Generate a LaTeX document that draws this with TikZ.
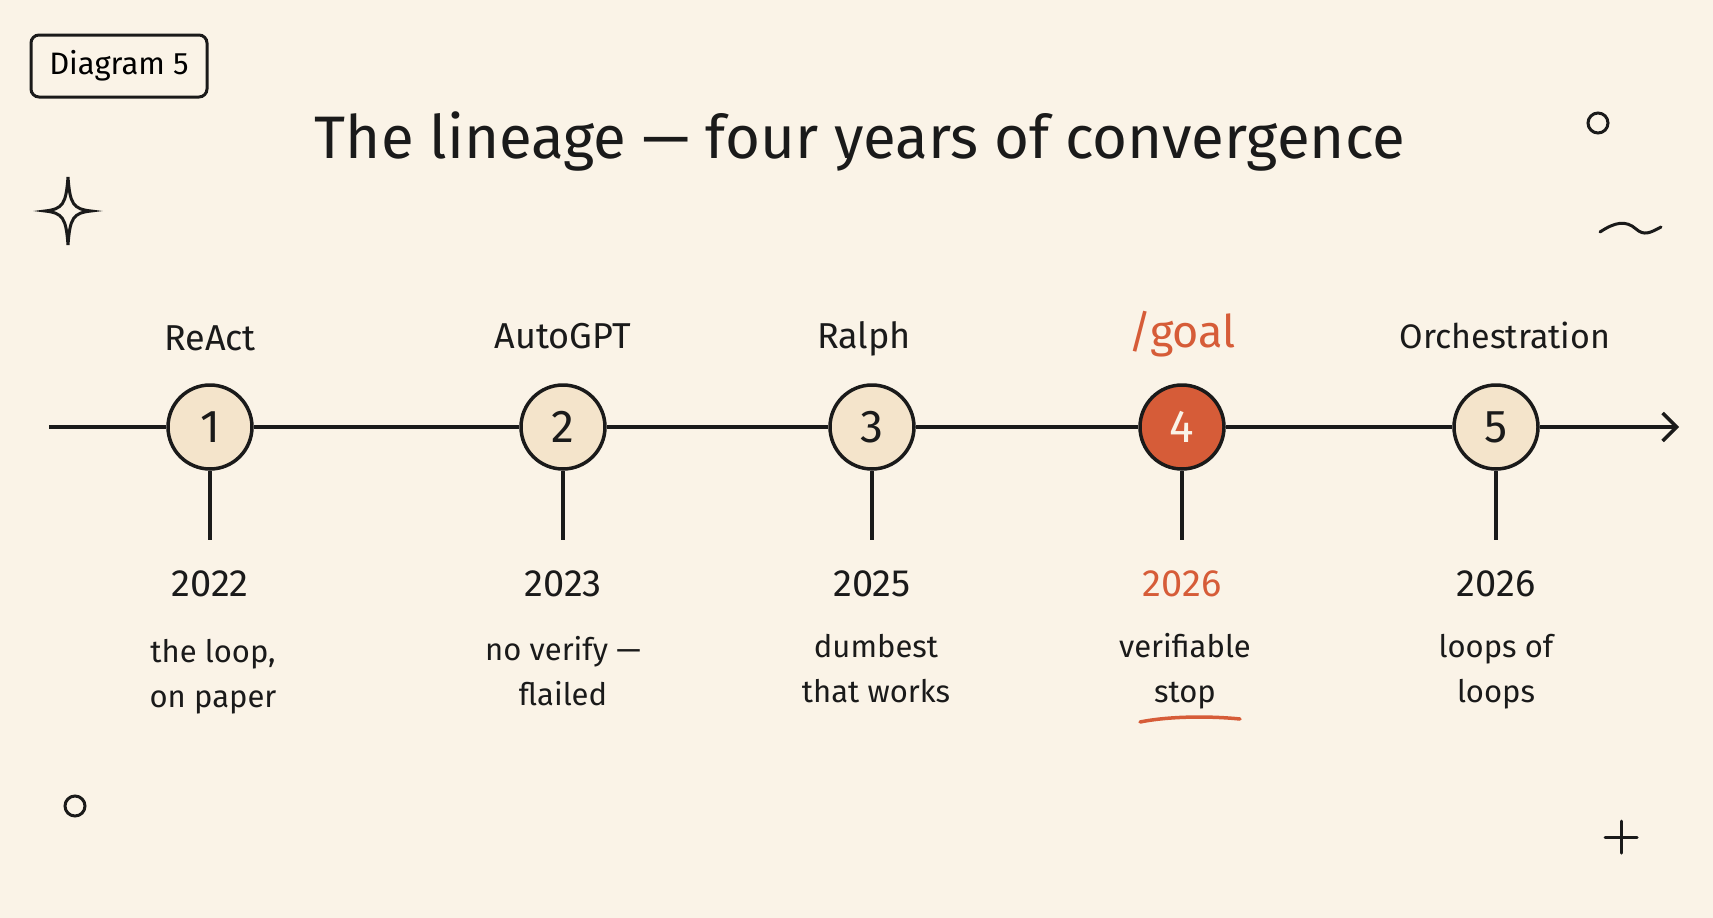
\documentclass[tikz,border=0pt]{standalone}
\usepackage{fontspec}
\setmainfont{Fira Sans}
\usetikzlibrary{positioning}
\usetikzlibrary{arrows.meta}
\definecolor{paper}{HTML}{FAF3E7}
\definecolor{beige}{HTML}{F4E4CB}
\definecolor{rust}{HTML}{D65C38}
\definecolor{ink}{HTML}{1A1A1A}
\tikzstyle{milestone}=[circle,fill=beige,draw=ink,line width=3.5pt,minimum size=84pt,inner sep=0pt,font=\fontsize{46}{50}\selectfont]
\tikzstyle{tag}=[anchor=base,text=ink,font=\fontsize{36}{40}\selectfont]
\tikzstyle{year}=[anchor=base,text=ink,font=\fontsize{38}{42}\selectfont]
\tikzstyle{note}=[anchor=base,text=ink,align=center,font=\fontsize{31}{45}\selectfont]
\tikzstyle{wire}=[draw=ink,line width=3.5pt]
\tikzstyle{doodle}=[draw=ink,line width=3pt,line cap=round]

\begin{document}
\begin{tikzpicture}[x=1pt,y=-1pt]

  \fill[paper] (0,0) rectangle (1713,918);
  \useasboundingbox (0,0) rectangle (1713,918);

  \def\ty{427};
  \def\sy{540};

  \node[draw=ink,line width=3pt,rounded corners=8pt,minimum width=176pt,minimum height=62pt,font=\fontsize{31}{34}\selectfont] (badge) at (119,66) {Diagram 5};
  \node[anchor=base,text=ink,font=\fontsize{60}{66}\selectfont] (title) at (860,158) {The lineage — four years of convergence};

  \coordinate (start) at (49,\ty);
  \coordinate (end) at (1679,\ty);

  \foreach \x/\i/\fc/\tc in {210/1/beige/ink, 563/2/beige/ink, 872/3/beige/ink, 1182/4/rust/paper, 1496/5/beige/ink}
  {
     \node[milestone,fill=\fc,text=\tc] (n\i) at (\x,\ty) {\i};
     \coordinate (s\i) at (\x,\sy);
     \draw[wire] (n\i) -- (s\i);
  }

  \foreach \a/\b in {start/n1, n1/n2, n2/n3, n3/n4, n4/n5}
     \draw[wire] (\a) -- (\b);
  \draw[wire,-{Straight Barb[length=14pt,width=28pt]}] (n5) -- (end);

  % names above the line
  \node[tag] (t1) at (210,350) {ReAct};
  \node[tag] (t2) at (563,348) {AutoGPT};
  \node[tag] (t3) at (864,348) {Ralph};
  \node[tag,text=rust,font=\fontsize{45}{48}\selectfont] (t4) at (1182,347) {/goal};
  \node[tag,font=\fontsize{34}{40}\selectfont] (t5) at (1505,348) {Orchestration};

  % years and notes below
  \foreach \x/\i/\yr/\tc in {210/1/2022/ink, 563/2/2023/ink, 872/3/2025/ink, 1182/4/2026/rust, 1496/5/2026/ink}
     \node[year,text=\tc] (y\i) at (\x,596) {\yr};

  \node[note] (d1) at (213,707) {the loop,\\on paper};
  \node[note] (d2) at (563,705) {no verify —\\flailed};
  \node[note] (d3) at (876,702) {dumbest\\that works};
  \node[note] (d4) at (1185,702) {verifiable\\stop};
  \node[note] (d5) at (1496,702) {loops of\\loops};

  \draw[rust,line width=3.5pt,line cap=round] (1140,722) .. controls (1170,716) and (1210,716) .. (1240,719);

  % doodles
  \draw[doodle] (68,177) .. controls (70,204) and (73,209) .. (91,211) .. controls (73,213) and (70,218) .. (68,245) .. controls (66,218) and (63,213) .. (45,211) .. controls (63,209) and (66,204) .. (68,177) -- cycle;
  \draw[doodle] (1598,123) circle (10);
  \draw[doodle] (1600,232) .. controls (1615,222) and (1626,220) .. (1636,229) .. controls (1644,236) and (1650,233) .. (1661,227);
  \draw[doodle] (75,806) circle (10);
  \draw[doodle] (1621,821) -- (1621,853);
  \draw[doodle] (1605,837) -- (1637,837);

\end{tikzpicture}
\end{document}
